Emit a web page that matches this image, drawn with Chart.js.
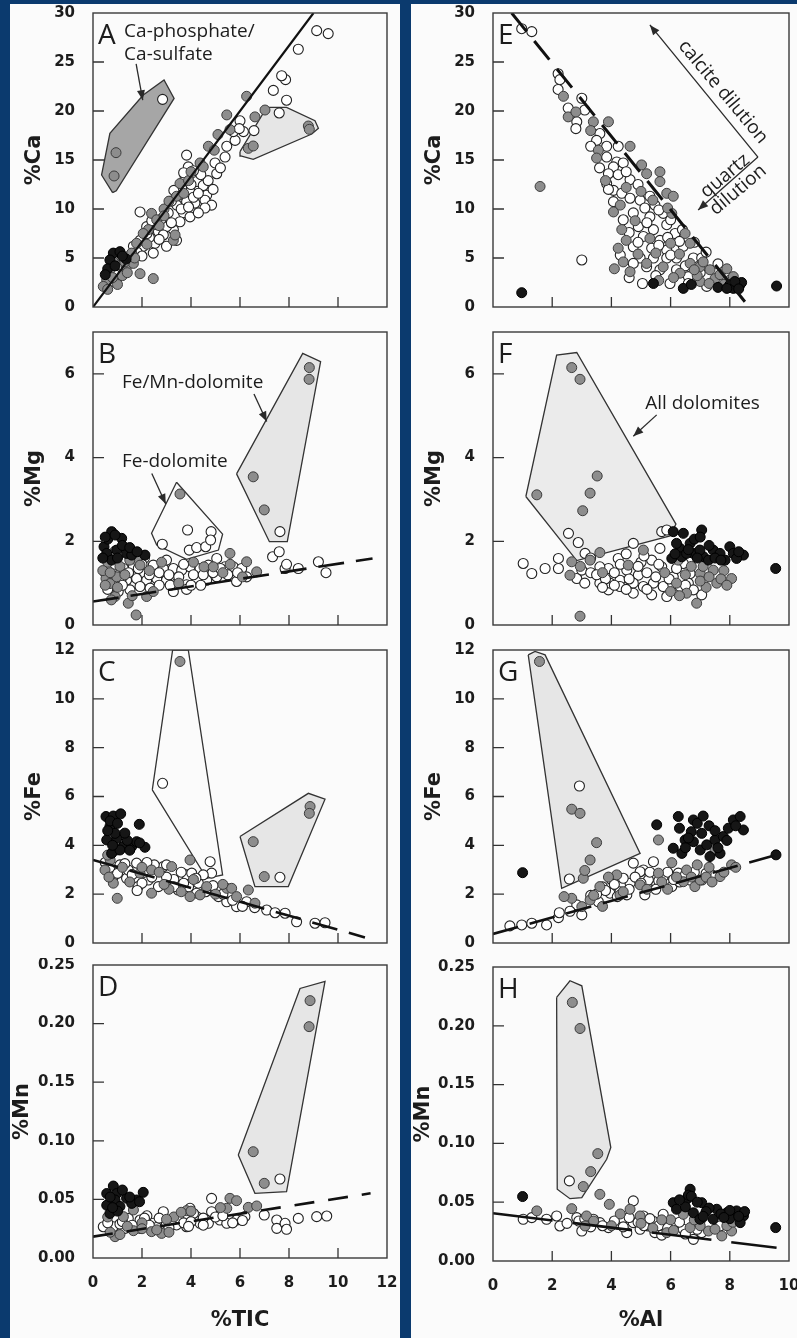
<!DOCTYPE html>
<html><head><meta charset="utf-8">
<script src="https://cdn.jsdelivr.net/npm/chart.js@4/dist/chart.umd.min.js"></script>
<style>
html,body{margin:0;padding:0;background:#0b3a6e;width:797px;height:1338px;overflow:hidden}
.col{position:absolute;background:#fbfbfb}
canvas{position:absolute}
</style></head><body>
<div class="col" style="left:10px;top:4px;width:390px;height:1334px"></div>
<div class="col" style="left:411px;top:4px;width:386px;height:1334px"></div>
<script>
// ---------- tick labels ----------
const X_TICKS_TIC = [0,2,4,6,8,10,12];
const X_TICKS_AL = [0,2,4,6,8,10];
const Y_TICKS_CA = [0,5,10,15,20,25,30];
const Y_TICKS_MG = [0,2,4,6];
const Y_TICKS_FE = [0,2,4,6,8,10,12];
const Y_TICKS_MN = [0,0.05,0.10,0.15,0.20,0.25];

// ---------- Panel A: %Ca vs %TIC ----------
const A_white = [[9.13,28.2],[9.6,27.9],[8.38,26.3],[7.86,23.2],[7.7,23.6],[7.36,22.1],[7.9,21.1],[7.6,19.8],[6.57,18.0],[6.14,17.9],[6.0,19.0],[5.8,17.0],[5.46,16.4],[5.39,15.3],[4.98,14.7],[5.05,13.6],[5.73,17.9],[5.97,18.2],[2.84,21.19],[3.82,15.5],[3.89,14.3],[3.76,13.3],[4.23,12.8],[4.5,12.4],[4.64,11.4],[4.57,10.9],[4.84,10.4],[4.57,10.1],[4.16,10.6],[3.82,10.75],[3.48,11.4],[3.96,11.8],[3.62,12.1],[3.42,10.4],[3.69,9.6],[3.96,9.2],[3.55,8.7],[3.07,9.6],[3.28,7.9],[3.0,8.2],[2.67,7.7],[2.53,6.5],[2.87,7.35],[1.92,9.7],[2.19,8.2],[2.6,8.4],[2.05,6.2],[1.92,6.8],[1.65,6.2],[1.37,5.1],[0.97,4.3],[0.69,3.1],[0.53,2.2],[2.46,5.5],[3.0,6.2],[3.41,6.8],[4.3,9.6],[4.1,11.2],[3.3,11.9],[2.3,7.1],[1.5,4.6],[1.15,3.6],[0.85,2.6],[2.2,7.5],[2.4,8.8],[2.8,9.0],[3.2,8.6],[3.6,10.0],[3.9,10.2],[4.3,11.6],[4.7,12.9],[4.4,13.5],[4.1,13.9],[3.7,13.7],[3.2,10.8],[2.7,6.9],[1.8,5.6],[1.2,4.2],[0.9,3.3],[2.0,5.2],[4.9,12.0],[5.2,14.2],[4.0,12.5]];
const A_grey = [[0.94,15.75],[0.86,13.37],[6.34,16.19],[6.54,16.43],[8.79,18.47],[8.83,18.13],[6.27,21.5],[7.02,20.1],[6.61,19.4],[5.46,19.6],[5.59,18.1],[4.71,16.4],[4.37,14.7],[4.5,14.3],[3.55,12.6],[3.41,11.3],[2.39,9.55],[2.6,8.9],[2.26,7.9],[2.05,7.5],[3.28,6.8],[3.35,7.35],[1.78,6.5],[1.58,5.5],[1.1,5.5],[0.83,4.6],[0.69,3.8],[1.92,3.4],[2.46,2.9],[0.56,2.75],[0.42,2.1],[1.37,4.1],[1.65,4.45],[3.9,12.9],[2.9,10.0],[1.2,3.2],[0.6,1.8],[1.0,2.3],[1.4,3.5],[2.7,8.3],[3.1,10.8],[3.7,11.6],[4.0,13.8],[2.2,6.4],[1.7,5.0],[0.8,3.0],[4.95,16.0],[5.1,17.6],[1.3,4.6],[2.9,9.3]];
const A_black = [[0.83,5.5],[1.1,5.65],[0.69,4.8],[1.35,4.9],[0.6,3.9],[0.5,3.3],[0.9,4.2],[1.2,5.2]];
const A_poly1 = [[0.80,11.67],[0.35,13.47],[0.69,17.72],[2.05,21.63],[2.90,23.16],[3.31,21.29],[0.95,11.85],[0.80,11.67]];
const A_poly2 = [[6.0,15.85],[7.09,20.37],[7.90,20.37],[9.06,19.01],[9.20,18.23],[8.93,17.65],[6.54,15.07],[6.03,15.41],[6.0,15.85]];
const A_fit = [[0,0],[9.0,30]];

// ---------- Panel B: %Mg vs %TIC ----------
const B_white = [[7.63,2.23],[3.86,2.27],[2.83,1.93],[4.82,2.23],[3.93,1.79],[4.23,1.85],[4.6,1.87],[4.8,2.03],[0.76,1.35],[1.24,1.35],[1.65,1.39],[2.05,1.23],[2.46,1.43],[2.87,1.35],[3.28,1.35],[3.62,1.31],[3.96,1.39],[4.37,1.35],[4.71,1.43],[5.05,1.59],[5.39,1.39],[5.73,1.39],[6.07,1.35],[6.27,1.15],[5.86,1.04],[0.83,0.99],[1.37,1.07],[1.78,1.11],[2.19,1.07],[2.6,1.11],[3.0,1.07],[3.41,0.99],[3.82,0.96],[4.23,1.07],[4.64,1.07],[5.05,1.15],[1.03,0.8],[1.51,0.84],[1.92,0.92],[2.33,0.88],[3.28,0.8],[3.82,0.85],[7.33,1.63],[7.6,1.75],[7.84,1.35],[8.38,1.35],[9.2,1.51],[9.51,1.25],[7.9,1.45],[2.1,1.6],[3.0,1.55],[1.2,1.15],[0.5,1.25],[0.9,1.45],[1.45,1.25],[1.85,1.35],[2.3,1.2],[2.7,1.25],[3.1,1.2],[3.5,1.15],[3.7,1.45],[4.1,1.2],[4.5,1.2],[4.9,1.25],[5.2,1.35],[5.5,1.2],[2.7,0.95],[3.15,0.95],[4.0,0.95],[4.4,0.95],[1.2,0.95],[0.6,0.85],[2.0,1.45],[5.9,1.25]];
const B_grey = [[8.83,6.15],[8.82,5.87],[6.54,3.54],[6.99,2.75],[3.55,3.13],[0.9,1.77],[1.78,1.55],[1.92,1.43],[0.53,1.11],[0.69,0.99],[0.97,1.15],[0.9,0.68],[1.44,0.52],[1.76,0.24],[2.19,0.68],[5.59,1.71],[6.27,1.51],[6.68,1.27],[4.53,1.39],[4.91,1.39],[2.46,0.8],[1.1,1.4],[0.6,1.5],[3.5,1.0],[5.3,1.25],[0.4,1.3],[0.7,1.25],[1.3,1.2],[0.5,0.95],[1.0,0.9],[1.6,0.7],[2.3,1.3],[4.1,1.5],[5.6,1.45],[6.1,1.15],[0.75,0.6],[2.8,1.5],[1.5,1.55]];
const B_black = [[0.76,2.23],[1.17,2.07],[0.45,1.87],[0.97,1.79],[1.37,1.71],[1.58,1.67],[2.12,1.67],[0.56,1.71],[0.76,1.55],[1.2,1.9],[0.6,2.05],[1.0,1.6],[0.5,2.1],[0.9,2.15],[1.5,1.85],[1.8,1.75],[0.4,1.6]];
const B_poly1 = [[3.41,3.41],[5.29,2.17],[5.12,1.79],[3.82,1.57],[2.6,1.91],[2.39,2.19],[3.41,3.41]];
const B_poly2 = [[5.86,3.61],[8.56,6.49],[9.29,6.29],[7.93,1.99],[7.2,1.99],[5.86,3.61]];
const B_fit = [[0,0.56],[11.41,1.59]];

// ---------- Panel C: %Fe vs %TIC ----------
const C_white = [[2.84,6.54],[7.63,2.69],[0.69,2.99],[0.83,2.72],[1.37,2.65],[1.78,3.27],[1.44,2.99],[1.84,2.31],[2.26,2.58],[2.87,3.13],[2.67,2.31],[3.07,2.38],[3.48,2.17],[3.82,2.79],[4.3,2.45],[4.78,3.33],[4.84,2.86],[4.5,2.79],[4.23,2.04],[4.03,2.86],[5.12,1.9],[5.46,1.69],[5.86,1.49],[6.27,1.69],[7.09,1.35],[7.43,1.24],[7.84,1.22],[8.31,0.87],[9.06,0.81],[9.47,0.83],[1.1,3.2],[2.1,2.9],[3.3,2.6],[3.9,2.3],[0.5,3.3],[1.0,2.85],[1.6,2.8],[2.0,2.45],[2.4,2.7],[2.5,3.2],[3.0,2.7],[3.3,2.3],[3.6,2.9],[3.7,2.45],[4.2,2.65],[4.6,2.1],[4.9,2.35],[5.3,2.0],[5.7,1.75],[6.1,1.5],[6.6,1.45],[1.3,3.25],[2.2,3.3],[3.0,3.2],[1.8,2.15]];
const C_grey = [[3.55,11.53],[6.54,4.15],[8.86,5.59],[8.83,5.31],[6.99,2.72],[1.13,4.22],[0.97,3.81],[0.49,2.99],[0.83,2.45],[0.99,1.83],[2.39,2.04],[1.92,2.86],[2.39,2.99],[3.21,3.13],[3.96,3.4],[5.46,2.24],[5.66,2.24],[5.86,1.9],[6.34,2.17],[6.61,1.63],[4.64,2.31],[4.37,1.97],[3.96,1.9],[0.7,3.4],[0.6,3.6],[1.2,3.1],[1.5,2.5],[2.0,3.1],[2.7,2.9],[3.1,2.2],[3.6,2.1],[4.1,2.6],[5.0,2.0],[5.3,2.4],[0.65,2.7],[2.9,2.4]];
const C_black = [[0.53,5.18],[0.83,5.2],[1.13,5.29],[0.69,4.77],[1.89,4.86],[0.56,4.22],[0.97,4.29],[1.24,3.95],[1.58,3.95],[2.12,3.92],[1.78,4.15],[0.76,3.67],[1.1,3.81],[0.9,4.49],[0.6,4.6],[1.4,4.2],[0.7,5.0],[1.0,4.9],[1.3,4.5],[0.8,4.0],[1.9,4.1],[1.5,3.8]];
const C_poly1 = [[2.42,6.27],[3.25,12.0],[3.89,12.0],[5.29,2.79],[4.64,2.65],[2.42,6.27]];
const C_poly2 = [[6.0,4.36],[8.79,6.13],[9.47,5.89],[7.97,2.31],[6.61,2.31],[6.0,4.36]];
const C_fit = [[0,3.40],[11.1,0.23]];

// ---------- Panel D: %Mn vs %TIC ----------
const D_white = [[7.63,0.0674],[0.83,0.0267],[1.31,0.0253],[1.44,0.0338],[1.92,0.0324],[2.46,0.0296],[2.87,0.0395],[3.0,0.0296],[3.41,0.0282],[3.76,0.0353],[3.96,0.0424],[4.23,0.0353],[4.37,0.0296],[4.71,0.0296],[4.84,0.0509],[4.84,0.0395],[5.18,0.0324],[5.46,0.0296],[5.86,0.0324],[6.2,0.0353],[6.99,0.0367],[7.5,0.0324],[7.5,0.0253],[7.84,0.0296],[7.9,0.0245],[8.38,0.0338],[9.13,0.0353],[9.54,0.0358],[1.92,0.0253],[0.42,0.0267],[3.82,0.0267],[3.21,0.0324],[2.2,0.036],[4.1,0.038],[5.0,0.035],[0.6,0.03],[1.1,0.029],[1.6,0.028],[2.1,0.034],[2.6,0.026],[2.7,0.034],[3.1,0.026],[3.5,0.034],[3.7,0.03],[4.0,0.031],[4.5,0.034],[4.5,0.028],[5.3,0.036],[5.7,0.03],[6.1,0.032],[1.2,0.031],[2.3,0.028],[3.9,0.027]];
const D_grey = [[8.86,0.2196],[8.82,0.1974],[6.54,0.0907],[6.99,0.0637],[0.83,0.0424],[1.65,0.041],[1.24,0.0353],[5.59,0.0509],[5.86,0.0489],[6.34,0.0432],[6.68,0.0444],[5.46,0.0424],[3.82,0.0404],[2.39,0.0225],[2.8,0.021],[0.9,0.0182],[1.65,0.0233],[2.0,0.03],[3.3,0.035],[0.7,0.022],[1.1,0.02],[1.4,0.027],[2.0,0.025],[2.6,0.024],[3.0,0.033],[3.6,0.039],[4.0,0.04],[0.6,0.035],[5.2,0.043],[3.1,0.022]];
const D_black = [[0.83,0.0614],[0.56,0.055],[0.97,0.055],[2.05,0.056],[1.37,0.051],[1.78,0.0495],[0.56,0.045],[0.9,0.0495],[0.69,0.038],[1.58,0.0466],[1.1,0.044],[0.7,0.052],[1.2,0.058],[1.0,0.04],[1.5,0.052],[0.8,0.043],[1.9,0.048]];
const D_poly = [[5.93,0.0879],[8.45,0.230],[9.47,0.236],[7.9,0.0566],[6.61,0.0552],[5.93,0.0879]];
const D_fit = [[0,0.0182],[11.33,0.0552]];

// ---------- Panel E: %Ca vs %Al ----------
const E_white = [[0.97,28.4],[1.31,28.1],[2.2,23.8],[2.26,23.2],[2.2,22.2],[3.0,21.3],[2.54,20.3],[3.1,20.1],[2.83,18.9],[2.8,18.2],[3.61,17.7],[3.5,17.0],[3.84,16.4],[4.23,16.4],[3.84,15.3],[4.18,14.8],[4.4,14.7],[4.07,14.3],[3.9,13.6],[4.23,13.5],[4.63,13.0],[3.84,12.6],[4.07,11.9],[4.35,11.6],[4.63,11.1],[4.07,10.75],[4.97,10.9],[5.13,10.1],[5.47,10.4],[4.74,9.6],[5.3,9.2],[5.75,9.55],[4.91,8.2],[5.42,7.9],[5.87,8.4],[5.08,7.2],[5.64,6.8],[6.15,7.5],[4.74,6.15],[5.36,6.0],[5.87,5.8],[6.43,6.2],[4.97,5.0],[5.42,5.0],[5.87,5.0],[6.2,5.0],[6.77,5.0],[4.74,4.45],[5.19,4.1],[5.64,3.8],[6.2,3.8],[7.05,5.0],[5.05,2.4],[5.98,2.4],[6.6,3.1],[7.22,2.1],[3.0,4.8],[4.5,13.8],[4.9,12.5],[5.3,11.3],[5.6,9.9],[6.0,8.9],[6.4,7.9],[6.8,6.6],[7.2,5.6],[7.6,4.4],[4.4,8.9],[4.6,7.6],[4.9,6.6],[5.6,6.3],[6.0,5.3],[6.5,4.2],[7.0,3.5],[7.6,2.6],[4.3,5.3],[4.6,3.0],[5.5,3.2],[6.6,2.4],[3.6,14.2],[3.3,16.4],[3.9,12.0],[5.2,8.6],[5.9,7.1],[6.3,6.7]];
const E_grey = [[2.38,21.5],[2.54,19.4],[3.39,18.9],[3.9,18.9],[3.56,16.0],[3.5,15.2],[4.63,16.4],[5.02,14.5],[5.64,13.8],[5.19,13.6],[5.64,12.8],[5.87,11.6],[6.09,11.3],[4.07,9.7],[4.35,7.9],[4.23,6.0],[6.04,9.55],[6.49,7.5],[6.66,6.5],[4.63,3.6],[5.19,4.45],[5.75,4.1],[6.32,3.45],[6.66,4.45],[6.99,4.1],[7.33,3.8],[7.5,2.9],[7.67,3.3],[8.0,2.75],[8.12,3.1],[8.23,2.4],[1.59,12.3],[4.5,12.2],[5.0,11.8],[5.3,7.0],[6.0,6.5],[7.0,2.6],[6.9,3.2],[4.5,6.8],[7.1,4.6],[7.9,3.9],[6.3,5.4],[5.5,5.5],[4.9,5.4],[4.4,4.6],[4.1,3.9],[6.8,3.8],[7.3,2.4],[7.8,2.3],[5.6,2.7],[6.1,3.0],[4.8,8.8],[5.4,10.9],[5.9,10.1],[4.3,10.4],[3.8,12.9],[3.3,18.0],[2.8,19.9]];
const E_black = [[0.97,1.46],[9.58,2.14],[5.42,2.4],[6.43,1.9],[8.0,2.25],[8.12,1.9],[8.34,2.25],[8.4,2.5],[8.17,2.6],[6.7,2.3],[7.6,2.0],[7.9,1.9],[8.3,1.85]];
const E_fit = [[0.63,30],[8.51,0.54]];

// ---------- Panel F: %Mg vs %Al ----------
const F_white = [[1.02,1.47],[1.31,1.23],[1.76,1.35],[2.21,1.59],[2.21,1.35],[2.55,2.19],[2.88,1.97],[3.11,1.71],[2.83,1.11],[3.0,1.31],[3.61,1.0],[3.9,0.84],[4.23,1.59],[3.9,1.35],[4.29,1.07],[4.52,1.31],[4.74,1.95],[4.91,1.19],[5.08,0.92],[5.42,1.0],[5.36,0.72],[5.75,0.92],[5.87,0.68],[5.7,1.39],[5.64,1.83],[5.7,2.23],[5.87,2.27],[5.36,1.55],[6.09,1.15],[6.32,0.92],[6.66,1.23],[6.6,1.0],[7.05,0.72],[6.77,0.84],[6.43,1.47],[3.61,1.39],[3.95,1.0],[4.74,1.0],[4.74,0.76],[4.29,0.92],[3.3,1.25],[5.0,1.5],[3.1,1.0],[3.3,1.6],[3.5,1.2],[3.8,1.1],[4.1,1.25],[4.3,1.45],[4.6,1.1],[4.9,1.4],[5.2,1.25],[5.5,1.15],[5.2,0.85],[4.5,0.85],[5.6,1.45],[5.95,1.1],[6.2,1.35],[6.5,0.95],[4.1,0.95],[3.7,0.9],[5.1,1.65],[4.5,1.7]];
const F_grey = [[2.66,6.15],[2.94,5.87],[1.48,3.11],[3.52,3.56],[3.28,3.15],[3.03,2.73],[2.66,1.51],[2.6,1.19],[3.28,1.55],[3.61,1.73],[5.08,1.79],[4.57,1.43],[6.88,0.52],[6.54,0.76],[7.0,1.23],[7.56,1.0],[8.06,1.11],[7.44,1.31],[6.26,1.55],[2.94,0.21],[7.2,0.9],[6.0,0.8],[7.8,1.3],[6.2,1.0],[6.7,1.4],[7.0,1.05],[7.3,1.15],[7.7,1.1],[7.1,1.4],[6.5,1.2],[5.8,1.25],[6.3,0.7],[7.9,0.95],[3.7,1.25],[2.95,1.4]];
const F_black = [[6.09,2.23],[7.05,2.27],[6.32,1.83],[6.66,1.95],[6.77,1.71],[7.11,1.63],[7.44,1.79],[7.67,1.71],[8.0,1.87],[8.12,1.71],[8.46,1.67],[6.04,1.59],[6.38,1.63],[6.54,1.71],[6.99,1.79],[7.28,1.55],[7.84,1.55],[8.23,1.59],[9.55,1.35],[6.43,2.19],[6.8,2.05],[7.5,1.6],[6.2,1.95],[6.6,1.8],[7.3,1.9],[7.7,1.55],[8.3,1.75],[6.9,1.6],[6.15,1.7],[7.0,2.1]];
const F_poly = [[1.11,3.07],[2.15,6.45],[2.83,6.51],[6.18,2.41],[5.98,2.13],[2.83,1.54],[1.11,3.07]];

// ---------- Panel G: %Fe vs %Al ----------
const G_white = [[2.92,6.43],[2.58,2.62],[0.57,0.7],[0.97,0.74],[1.31,0.81],[1.81,0.74],[2.21,1.04],[2.24,1.24],[2.83,1.56],[3.0,1.15],[3.56,1.69],[3.95,2.04],[4.29,2.1],[4.63,2.45],[4.74,3.27],[5.08,2.99],[5.25,2.58],[5.53,2.38],[5.13,1.97],[5.75,2.72],[6.04,2.31],[6.26,2.86],[6.66,2.58],[7.05,2.58],[7.39,2.79],[5.42,3.33],[4.97,2.92],[4.52,1.97],[3.7,2.3],[4.0,2.6],[6.3,2.5],[3.3,1.95],[3.8,2.15],[4.1,2.4],[4.4,2.65],[4.8,2.7],[5.0,2.45],[5.3,2.9],[5.6,2.55],[5.9,2.9],[6.1,2.6],[6.5,2.8],[6.8,2.9],[7.2,2.85],[4.2,1.9],[4.6,2.2],[5.5,2.2],[3.5,2.0],[2.6,1.3]];
const G_grey = [[1.57,11.53],[2.66,5.48],[2.94,5.31],[3.5,4.11],[3.28,3.4],[3.05,2.65],[5.59,4.22],[6.04,3.29],[7.5,3.81],[8.06,3.2],[3.1,2.97],[4.18,2.79],[3.61,2.31],[2.66,1.83],[3.0,1.49],[3.28,1.76],[4.29,1.97],[6.54,2.99],[6.82,2.31],[7.0,2.58],[7.67,2.72],[6.43,2.51],[5.59,2.86],[4.97,2.38],[7.3,3.1],[5.9,2.2],[3.4,1.95],[3.9,2.7],[4.4,2.1],[5.2,2.2],[5.7,2.5],[6.2,2.7],[6.7,2.7],[7.2,2.7],[7.8,2.9],[8.2,3.1],[2.4,1.9],[3.7,1.5],[7.4,2.5],[6.9,3.2]];
const G_black = [[1.0,2.88],[9.56,3.61],[5.53,4.84],[6.26,5.18],[6.77,5.04],[7.05,4.49],[6.49,4.22],[6.09,3.88],[6.38,3.67],[6.77,4.15],[7.0,3.81],[7.22,4.02],[7.5,4.22],[7.78,4.36],[7.95,4.7],[8.12,5.04],[8.35,5.18],[8.46,4.63],[7.67,3.67],[7.33,3.54],[6.7,4.56],[6.9,4.9],[7.1,5.2],[6.3,4.7],[6.6,4.3],[7.3,4.8],[7.5,4.6],[7.9,4.2],[8.2,4.8],[6.5,3.9],[7.6,3.9]];
const G_poly = [[1.19,11.8],[1.42,11.94],[1.76,11.8],[4.97,3.67],[2.32,2.24],[1.19,11.8]];
const G_fit = [[0,0.37],[9.58,3.61]];

// ---------- Panel H: %Mn vs %Al ----------
const H_white = [[2.58,0.0681],[1.02,0.0355],[1.31,0.0369],[1.81,0.0355],[2.26,0.0298],[2.15,0.0383],[2.83,0.0369],[3.0,0.0255],[3.61,0.0326],[3.9,0.0284],[4.23,0.0312],[4.74,0.0326],[4.74,0.0511],[5.08,0.0383],[5.25,0.0298],[5.47,0.0241],[5.75,0.0397],[5.87,0.0326],[6.15,0.0298],[6.43,0.027],[6.77,0.0184],[7.05,0.0241],[7.67,0.0298],[4.52,0.0241],[4.97,0.027],[3.39,0.0355],[4.4,0.036],[5.4,0.034],[2.5,0.032],[2.9,0.034],[3.3,0.029],[3.7,0.03],[4.1,0.034],[4.4,0.029],[4.9,0.033],[5.1,0.03],[5.6,0.03],[5.9,0.028],[6.3,0.033],[6.5,0.023],[6.9,0.027],[7.3,0.031],[5.3,0.036],[4.6,0.037],[3.1,0.036],[5.7,0.022]];
const H_grey = [[2.68,0.2199],[2.94,0.1977],[3.54,0.0913],[3.3,0.076],[3.05,0.0633],[1.48,0.0426],[3.61,0.0567],[3.93,0.0482],[2.66,0.0445],[3.16,0.0383],[4.63,0.044],[4.97,0.0383],[6.43,0.0397],[6.66,0.0284],[7.28,0.0255],[7.73,0.0213],[8.06,0.0255],[3.11,0.0298],[5.87,0.0241],[6.0,0.035],[7.0,0.03],[3.4,0.034],[4.3,0.04],[5.0,0.032],[5.4,0.028],[6.1,0.026],[6.8,0.035],[7.5,0.027],[7.9,0.03],[8.1,0.033],[5.7,0.035],[4.0,0.03]];
const H_black = [[1.0,0.0548],[9.55,0.0284],[6.66,0.061],[6.09,0.0496],[6.54,0.0525],[7.05,0.0496],[7.56,0.044],[7.9,0.041],[8.23,0.0426],[8.46,0.0383],[8.35,0.0326],[6.77,0.041],[6.2,0.044],[6.99,0.0355],[7.44,0.0355],[6.6,0.056],[7.3,0.045],[8.0,0.036],[6.7,0.055],[6.9,0.05],[7.2,0.042],[7.7,0.04],[8.0,0.043],[8.5,0.042],[8.3,0.038],[7.1,0.038],[7.8,0.037],[6.5,0.046],[6.3,0.052]];
const H_poly = [[2.15,0.2241],[2.6,0.2383],[3.0,0.234],[3.98,0.0965],[3.84,0.0865],[3.0,0.0539],[2.6,0.053],[2.17,0.061],[2.15,0.2241]];
const H_fit = [[0,0.0406],[9.58,0.0113]];

// ---------- drawing helpers ----------
const xy = a => a.map(([x, y]) => ({x, y}));
const INK = '#1c1c1c';

const deco = {
  id: 'deco',
  afterDatasetsDraw(chart, _args, o) {
    const {ctx, chartArea: ca} = chart;
    const xs = chart.scales.x, ys = chart.scales.y;
    ctx.save();
    ctx.strokeStyle = '#3a3a3a'; ctx.lineWidth = 1.4;
    ctx.strokeRect(ca.left, ca.top, ca.right - ca.left, ca.bottom - ca.top);
    ctx.lineWidth = 1.3; ctx.strokeStyle = '#333';
    ctx.beginPath();
    for (const t of xs.ticks) {
      const px = xs.getPixelForValue(t.value);
      if (px <= ca.left + 2 || px >= ca.right - 2) continue;
      ctx.moveTo(px, ca.bottom); ctx.lineTo(px, ca.bottom - 10);
    }
    for (const t of ys.ticks) {
      const py = ys.getPixelForValue(t.value);
      if (py <= ca.top + 2 || py >= ca.bottom - 2) continue;
      ctx.moveTo(ca.left, py); ctx.lineTo(ca.left + 11, py);
    }
    ctx.stroke();
    ctx.fillStyle = INK;
    ctx.font = '400 28px "Open Sans"';
    ctx.textAlign = 'left'; ctx.textBaseline = 'alphabetic';
    ctx.fillText(o.letter, ca.left + 5, ca.top + 31);
    ctx.strokeStyle = '#2a2a2a'; ctx.fillStyle = '#2a2a2a'; ctx.lineWidth = 1.3;
    for (const n of (o.notes || [])) {
      if (n.kind === 'text') {
        ctx.save();
        ctx.translate(xs.getPixelForValue(n.x), ys.getPixelForValue(n.y));
        ctx.rotate((n.rot || 0) * Math.PI / 180);
        ctx.font = '400 ' + (n.size || 19) + 'px "Open Sans"';
        ctx.fillStyle = INK;
        ctx.textAlign = n.align || 'left';
        ctx.textBaseline = n.base || 'alphabetic';
        ctx.fillText(n.text, 0, 0);
        ctx.restore();
      } else {
        const x1 = xs.getPixelForValue(n.x1), y1 = ys.getPixelForValue(n.y1);
        const x2 = xs.getPixelForValue(n.x2), y2 = ys.getPixelForValue(n.y2);
        ctx.beginPath(); ctx.moveTo(x1, y1); ctx.lineTo(x2, y2); ctx.stroke();
        const a = Math.atan2(y2 - y1, x2 - x1), L = 10, W = 4;
        ctx.beginPath(); ctx.moveTo(x2, y2);
        ctx.lineTo(x2 - L * Math.cos(a) + W * Math.sin(a), y2 - L * Math.sin(a) - W * Math.cos(a));
        ctx.lineTo(x2 - L * Math.cos(a) - W * Math.sin(a), y2 - L * Math.sin(a) + W * Math.cos(a));
        ctx.closePath(); ctx.fill();
      }
    }
    ctx.restore();
  }
};

function panel(p) {
  const c = document.createElement('canvas');
  c.width = p.g.w; c.height = p.g.h;
  c.style.left = p.g.left + 'px'; c.style.top = p.g.top + 'px';
  c.style.width = p.g.w + 'px'; c.style.height = p.g.h + 'px';
  document.body.appendChild(c);
  const ds = [];
  if (p.fit) ds.push({data: xy(p.fit), showLine: true, pointRadius: 0, borderColor: '#111', borderWidth: p.fitW || 2.6, borderDash: p.dash || [], fill: false, order: 0});
  ds.push({data: xy(p.black), pointRadius: 5, backgroundColor: '#161616', borderColor: '#000', borderWidth: 1, order: 1});
  ds.push({data: xy(p.grey), pointRadius: 5, backgroundColor: '#8d8d8d', borderColor: '#3c3c3c', borderWidth: 1, order: 2});
  ds.push({data: xy(p.white), pointRadius: 5, backgroundColor: '#ffffff', borderColor: '#222', borderWidth: 1.1, order: 3});
  for (const pg of (p.polys || [])) {
    ds.push({data: xy(pg.d), showLine: true, pointRadius: 0, tension: 0, borderColor: '#333', borderWidth: 1.3,
      backgroundColor: pg.c || 'rgba(0,0,0,0)', fill: pg.c ? 'shape' : false, order: 5});
  }
  const fitX = s => { s.height = p.g.xh; s.paddingLeft = 0; s.paddingRight = 0; };
  const fitY = s => { s.width = p.g.yw; s.paddingTop = 0; s.paddingBottom = 0; };
  new Chart(c, {
    type: 'scatter',
    data: {datasets: ds},
    options: {
      responsive: false, animation: false, events: [],
      layout: {padding: {top: p.g.pt, right: p.g.pr, left: 0, bottom: 0}},
      plugins: {legend: {display: false}, tooltip: {enabled: false}, deco: {letter: p.letter, notes: p.notes}},
      scales: {
        x: {type: 'linear', min: 0, max: p.xmax,
          afterBuildTicks: s => { s.ticks = p.xt.map(v => ({value: v})); },
          afterFit: fitX,
          grid: {display: false}, border: {display: false},
          ticks: {display: !!p.xtitle, autoSkip: false, maxRotation: 0, padding: 8, color: INK,
            font: {family: 'DejaVu Sans', weight: 'bold', size: 15}},
          title: {display: !!p.xtitle, text: p.xtitle || '', color: INK, padding: {top: 0, bottom: 5},
            font: {family: 'DejaVu Sans', weight: 'bold', size: 21}}
        },
        y: {type: 'linear', min: 0, max: p.ymax,
          afterBuildTicks: s => { s.ticks = p.yt.map(v => ({value: v})); },
          afterFit: fitY,
          grid: {display: false}, border: {display: false},
          ticks: {autoSkip: false, padding: 10, color: INK, callback: p.yfmt || (v => String(v)),
            font: {family: 'DejaVu Sans', weight: 'bold', size: 15}},
          title: {display: true, text: p.ytitle, color: INK, padding: {top: p.tp !== undefined ? p.tp : p.g.tp, bottom: 0},
            font: {family: 'DejaVu Sans', weight: 'bold', size: 21}}
        }
      }
    },
    plugins: [deco]
  });
}

const GL = (top, h, pt, xh) => ({left: 10, w: 390, top, h, pt, pr: 13, yw: 83, xh, tp: 12});
const GR = (top, h, pt, xh) => ({left: 411, w: 386, top, h, pt, pr: 8, yw: 82, xh, tp: 11});
const f2 = v => v.toFixed(2);
const LIGHT = '#e6e6e6';

panel({g: GL(4, 318, 9, 15), letter: 'A', xmax: 12, xt: X_TICKS_TIC, ymax: 30, yt: Y_TICKS_CA, ytitle: '%Ca',
  white: A_white, grey: A_grey, black: A_black, fit: A_fit, fitW: 2.2,
  polys: [{d: A_poly1, c: '#a6a6a6'}, {d: A_poly2, c: LIGHT}],
  notes: [{kind: 'text', x: 1.27, y: 27.55, text: 'Ca-phosphate/'}, {kind: 'text', x: 1.27, y: 25.2, text: 'Ca-sulfate'},
          {kind: 'arrow', x1: 1.76, y1: 24.8, x2: 2.03, y2: 21.1}]});
panel({g: GL(322, 318, 10, 15), letter: 'B', xmax: 12, xt: X_TICKS_TIC, ymax: 7, yt: Y_TICKS_MG, ytitle: '%Mg',
  white: B_white, grey: B_grey, black: B_black, fit: B_fit, dash: [26, 12],
  polys: [{d: B_poly1}, {d: B_poly2, c: LIGHT}],
  notes: [{kind: 'text', x: 1.18, y: 5.66, text: 'Fe/Mn-dolomite'}, {kind: 'text', x: 1.18, y: 3.77, text: 'Fe-dolomite'},
          {kind: 'arrow', x1: 6.57, y1: 5.52, x2: 7.09, y2: 4.86}, {kind: 'arrow', x1: 2.40, y1: 3.62, x2: 2.97, y2: 2.89}]});
panel({g: GL(640, 318, 10, 15), letter: 'C', xmax: 12, xt: X_TICKS_TIC, ymax: 12, yt: Y_TICKS_FE, ytitle: '%Fe',
  white: C_white, grey: C_grey, black: C_black, fit: C_fit, dash: [26, 12],
  polys: [{d: C_poly1}, {d: C_poly2, c: LIGHT}], notes: []});
panel({g: GL(958, 380, 7, 80), letter: 'D', xmax: 12, xt: X_TICKS_TIC, ymax: 0.25, yt: Y_TICKS_MN, ytitle: '%Mn', yfmt: f2, xtitle: '%TIC', tp: 0,
  white: D_white, grey: D_grey, black: D_black, fit: D_fit, dash: [20, 14],
  polys: [{d: D_poly, c: LIGHT}], notes: []});

panel({g: GR(4, 318, 9, 15), letter: 'E', xmax: 10, xt: X_TICKS_AL, ymax: 30, yt: Y_TICKS_CA, ytitle: '%Ca',
  white: E_white, grey: E_grey, black: E_black, fit: E_fit, fitW: 3, dash: [24, 12],
  polys: [],
  notes: [{kind: 'text', x: 7.77, y: 21.94, text: 'calcite dilution', rot: 50, align: 'center', base: 'middle'},
          {kind: 'text', x: 7.84, y: 13.37, text: 'quartz', rot: -40, align: 'center', base: 'middle'},
          {kind: 'text', x: 8.28, y: 11.94, text: 'dilution', rot: -40, align: 'center', base: 'middle'},
          {kind: 'arrow', x1: 8.95, y1: 15.3, x2: 5.30, y2: 28.78}, {kind: 'arrow', x1: 8.95, y1: 15.3, x2: 6.93, y2: 9.9}]});
panel({g: GR(322, 318, 10, 15), letter: 'F', xmax: 10, xt: X_TICKS_AL, ymax: 7, yt: Y_TICKS_MG, ytitle: '%Mg',
  white: F_white, grey: F_grey, black: F_black,
  polys: [{d: F_poly, c: '#ebebeb'}],
  notes: [{kind: 'text', x: 5.14, y: 5.16, text: 'All dolomites'}, {kind: 'arrow', x1: 5.53, y1: 5.02, x2: 4.74, y2: 4.51}]});
panel({g: GR(640, 318, 10, 15), letter: 'G', xmax: 10, xt: X_TICKS_AL, ymax: 12, yt: Y_TICKS_FE, ytitle: '%Fe',
  white: G_white, grey: G_grey, black: G_black, fit: G_fit, dash: [26, 12],
  polys: [{d: G_poly, c: LIGHT}], notes: []});
panel({g: GR(958, 380, 9, 77), letter: 'H', xmax: 10, xt: X_TICKS_AL, ymax: 0.25, yt: Y_TICKS_MN, ytitle: '%Mn', yfmt: f2, xtitle: '%Al', tp: 0,
  white: H_white, grey: H_grey, black: H_black, fit: H_fit, dash: [60, 20],
  polys: [{d: H_poly, c: LIGHT}], notes: []});
</script>
</body></html>
